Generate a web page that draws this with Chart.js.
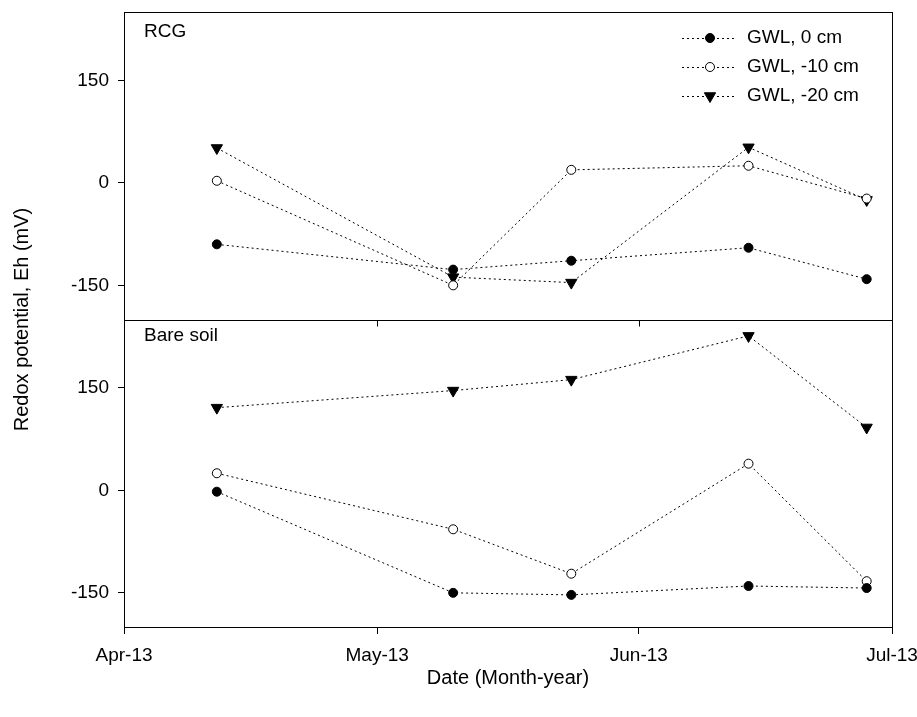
<!DOCTYPE html>
<html>
<head>
<meta charset="utf-8">
<script src="https://cdn.jsdelivr.net/npm/chart.js@4"></script>
<style>
  html, body { margin: 0; padding: 0; background: #fff; }
  #c { display: block; }
</style>
</head>
<body>
<canvas id="c" width="917" height="717"></canvas>
<script>
// days since 1 Apr 2013
const sampleDays = [11, 39, 53, 74, 88];
const tickDays = [0, 30, 61, 91];
const tickLabels = ['Apr-13', 'May-13', 'Jun-13', 'Jul-13'];
const yTicks = [-150, 0, 150];

const seriesNames = ['GWL, 0 cm', 'GWL, -10 cm', 'GWL, -20 cm'];

// RCG panel
const rcg0 = [-90, -127, -114, -95, -141];
const rcg10 = [3, -150, 19, 25, -23];
const rcg20 = [51, -138, -146, 52, -25];

// Bare soil panel
const bare0 = [-2, -150, -153, -140, -143];
const bare10 = [25, -57, -122, 39, -133];
const bare20 = [121, 146, 162, 226, 92];

const FONT = "Arial, 'Liberation Sans', sans-serif";
Chart.defaults.font.family = FONT;
Chart.defaults.color = '#000';

const styles = [
  { pointStyle: 'circle', pointRadius: 4.5, pointBackgroundColor: '#000', rotation: 0 },
  { pointStyle: 'circle', pointRadius: 4.5, pointBackgroundColor: '#fff', rotation: 0 },
  { pointStyle: 'triangle', pointRadius: 6.5, pointBackgroundColor: '#000', rotation: 180 }
];

function mk(values, idx, axis) {
  const s = styles[idx];
  return {
    label: seriesNames[idx],
    data: values.map((v, i) => ({ x: sampleDays[i], y: v })),
    yAxisID: axis,
    borderColor: '#000',
    borderWidth: 1,
    borderDash: [2, 3],
    pointStyle: s.pointStyle,
    pointRadius: s.pointRadius,
    pointHoverRadius: s.pointRadius,
    pointBackgroundColor: s.pointBackgroundColor,
    pointBorderColor: '#000',
    pointBorderWidth: 1,
    pointRotation: s.rotation,
    fill: false,
    tension: 0
  };
}

const datasets = [
  mk(rcg0, 0, 'yTop'), mk(rcg10, 1, 'yTop'), mk(rcg20, 2, 'yTop'),
  mk(bare0, 0, 'yBot'), mk(bare10, 1, 'yBot'), mk(bare20, 2, 'yBot')
];

function yScale(weight) {
  return {
    type: 'linear',
    position: 'left',
    stack: 'panels',
    weight: weight,
    min: -200,
    max: 250,
    afterBuildTicks: s => { s.ticks = yTicks.map(v => ({ value: v })); },
    afterFit: s => { s.width = 124; s.paddingTop = 0; s.paddingBottom = 0; },
    grid: { drawOnChartArea: false, color: '#000', tickLength: 6 },
    border: { color: '#000', width: 1 },
    ticks: { font: { size: 19 }, padding: 9, color: '#000' }
  };
}

const frame = {
  id: 'frame',
  afterDraw(chart) {
    const ctx = chart.ctx;
    const a = chart.chartArea;
    const yt = chart.scales.yTop;
    const x = chart.scales.x;
    ctx.save();
    ctx.strokeStyle = '#000';
    ctx.lineWidth = 1;
    ctx.strokeRect(a.left + 0.5, a.top + 0.5, a.right - a.left, a.bottom - a.top);
    const mid = Math.round(yt.bottom) + 0.5;
    ctx.beginPath();
    ctx.moveTo(a.left, mid);
    ctx.lineTo(a.right, mid);
    tickDays.forEach(d => {
      const px = Math.round(x.getPixelForValue(d)) + 0.5;
      ctx.moveTo(px, mid);
      ctx.lineTo(px, mid + 6);
    });
    ctx.stroke();

    // panel labels
    ctx.fillStyle = '#000';
    ctx.font = '19px ' + FONT;
    ctx.textBaseline = 'middle';
    ctx.textAlign = 'left';
    ctx.fillText('RCG', a.left + 20, yt.top + 20);
    ctx.fillText('Bare soil', a.left + 20, yt.bottom + 16);

    // legend
    const rows = [38, 67, 96];
    rows.forEach((ry, i) => {
      const ds = datasets[i];
      ctx.save();
      ctx.setLineDash([2, 3]);
      ctx.beginPath();
      ctx.moveTo(682, ry + 0.5);
      ctx.lineTo(736, ry + 0.5);
      ctx.stroke();
      ctx.restore();
      ctx.fillStyle = ds.pointBackgroundColor;
      ctx.strokeStyle = '#000';
      Chart.helpers.drawPoint(ctx, {
        pointStyle: ds.pointStyle,
        radius: ds.pointRadius,
        rotation: ds.pointRotation,
        borderWidth: 1
      }, 710, ry);
      ctx.fillStyle = '#000';
      ctx.fillText(ds.label, 747, ry);
    });

    // axis titles
    ctx.font = '20px ' + FONT;
    ctx.textAlign = 'center';
    ctx.fillText('Date (Month-year)', (a.left + a.right) / 2, 678);
    ctx.translate(22, (a.top + a.bottom) / 2);
    ctx.rotate(-Math.PI / 2);
    ctx.fillText('Redox potential, Eh (mV)', 0, 0);
    ctx.restore();
  }
};

new Chart(document.getElementById('c'), {
  type: 'line',
  data: { datasets: datasets },
  options: {
    responsive: false,
    animation: false,
    layout: { padding: { top: 12, right: 25, left: 0, bottom: 0 } },
    plugins: { legend: { display: false }, tooltip: { enabled: false } },
    scales: {
      x: {
        type: 'linear',
        position: 'bottom',
        min: 0,
        max: 91,
        afterBuildTicks: s => { s.ticks = tickDays.map(v => ({ value: v })); },
        afterFit: s => { s.height = 90; s.paddingLeft = 0; s.paddingRight = 0; },
        grid: { drawOnChartArea: false, color: '#000', tickLength: 7 },
        border: { color: '#000', width: 1 },
        ticks: {
          font: { size: 19 },
          padding: 10,
          maxRotation: 0,
          autoSkip: false,
          callback: v => tickLabels[tickDays.indexOf(v)]
        }
      },
      yBot: yScale(0),
      yTop: yScale(1)
    }
  },
  plugins: [frame]
});
</script>
</body>
</html>
